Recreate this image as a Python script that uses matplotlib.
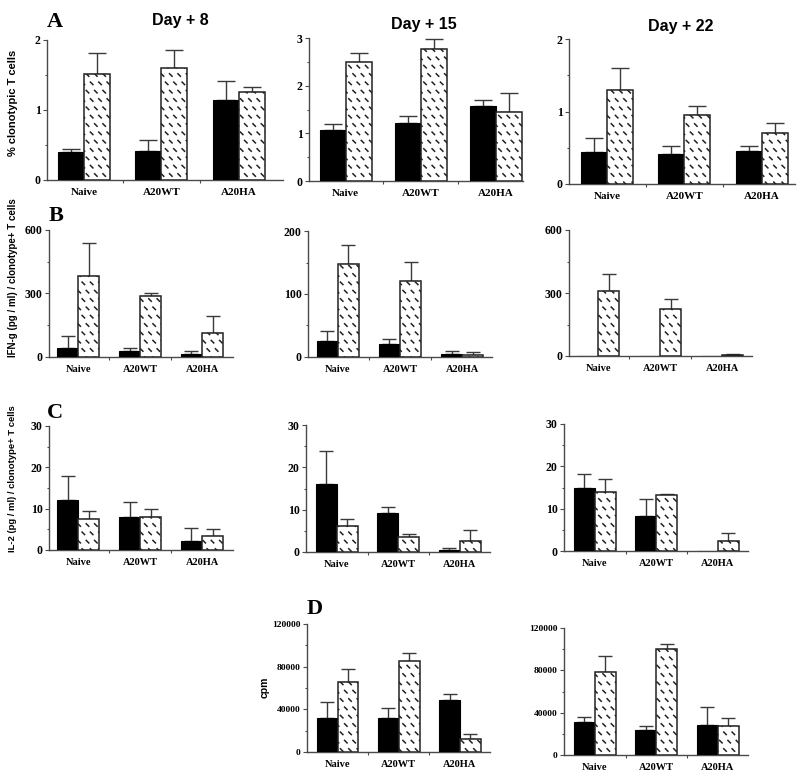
import numpy as np
import matplotlib
matplotlib.use("Agg")
import matplotlib.pyplot as plt
import matplotlib.hatch as mhatch
from matplotlib.path import Path
from matplotlib.ticker import FixedLocator, NullFormatter

# ---------------- data ----------------
categories = ["Naive", "A20WT", "A20HA"]

# A: % clonotypic T cells
a_d8_black = [0.40, 0.42, 1.15]
a_d8_black_err = [0.04, 0.15, 0.26]
a_d8_hatch = [1.51, 1.60, 1.26]
a_d8_hatch_err = [0.30, 0.26, 0.07]
a_d15_black = [1.07, 1.22, 1.58]
a_d15_black_err = [0.13, 0.15, 0.11]
a_d15_hatch = [2.49, 2.77, 1.45]
a_d15_hatch_err = [0.19, 0.20, 0.39]
a_d22_black = [0.44, 0.41, 0.46]
a_d22_black_err = [0.19, 0.12, 0.07]
a_d22_hatch = [1.29, 0.95, 0.71]
a_d22_hatch_err = [0.31, 0.13, 0.13]

# B: IFN-g
b_d8_black = [44, 27, 16]
b_d8_black_err = [54, 17, 11]
b_d8_hatch = [384, 287, 115]
b_d8_hatch_err = [153, 13, 78]
b_d15_black = [25, 21, 5]
b_d15_black_err = [16, 8, 5]
b_d15_hatch = [148, 121, 3]
b_d15_hatch_err = [30, 30, 4.5]
b_d22_black = [0, 0, 0]
b_d22_black_err = [0, 0, 0]
b_d22_hatch = [311, 222, 3]
b_d22_hatch_err = [79, 48, 5]

# C: IL-2
c_d8_black = [12.1, 7.9, 2.2]
c_d8_black_err = [5.9, 3.6, 3.2]
c_d8_hatch = [7.4, 8.1, 3.5]
c_d8_hatch_err = [2.1, 1.8, 1.7]
c_d15_black = [16.0, 9.2, 0.4]
c_d15_black_err = [7.9, 1.5, 0.5]
c_d15_hatch = [6.2, 3.6, 2.6]
c_d15_hatch_err = [1.5, 0.7, 2.7]
c_d22_black = [15.0, 8.2, 0]
c_d22_black_err = [3.2, 4.2, 0]
c_d22_hatch = [14.0, 13.3, 2.4]
c_d22_hatch_err = [2.9, 0.2, 1.9]

# D: cpm
d_d15_black = [32300, 31600, 48600]
d_d15_black_err = [14700, 10100, 6200]
d_d15_hatch = [65200, 85200, 12500]
d_d15_hatch_err = [12800, 7200, 4100]
d_d22_black = [31400, 23600, 28000]
d_d22_black_err = [4400, 4000, 17200]
d_d22_hatch = [78500, 99900, 27300]
d_d22_hatch_err = [14800, 4700, 7600]

a_ticks_d8 = [0, 1, 2]
a_ticks_d15 = [0, 1, 2, 3]
a_ticks_d22 = [0, 1, 2]
b_ticks_d8 = [0, 300, 600]
b_ticks_d15 = [0, 100, 200]
b_ticks_d22 = [0, 300, 600]
c_ticks = [0, 10, 20, 30]
d_ticks = [0, 40000, 80000, 120000]

day_titles = ["Day + 8", "Day + 15", "Day + 22"]
ylabels = ["% clonotypic T cells",
           "IFN-g (pg / ml) / clonotype+ T cells",
           "IL-2 (pg / ml) / clonotype+ T cells",
           "cpm"]
panel_letters = ["A", "B", "C", "D"]


# ---------------- custom dashed hatch ----------------
class DashHatch(mhatch.HatchPatternBase):
    size = 0.30

    def __init__(self, hatch, density):
        self.num_rows = hatch.count('.') * density
        if self.num_rows == 0:
            self.num_vertices = 0
        else:
            n = self.num_rows
            self.num_shapes = (n // 2 + 1) * (n + 1) + (n // 2) * n
            self.num_vertices = self.num_shapes * 2

    def set_vertices_and_codes(self, vertices, codes):
        n = self.num_rows
        off = 1.0 / n
        h = 0.5 * off * self.size
        vs, cs = [], []
        for row in range(n + 1):
            if row % 2 == 0:
                cols = np.linspace(0, 1, n + 1)
            else:
                cols = np.linspace(off / 2, 1 - off / 2, n)
            y = row * off
            for x in cols:
                vs.append([[x - h, y + h], [x + h, y - h]])
                cs.append([Path.MOVETO, Path.LINETO])
        vertices[:] = np.array(vs, dtype=float).reshape(-1, 2)
        codes[:] = np.array(cs).reshape(-1)


mhatch._hatch_types = [t for t in mhatch._hatch_types
                       if t is not mhatch.SmallFilledCircles] + [DashHatch]

plt.rcParams["hatch.linewidth"] = 1.1
plt.rcParams["hatch.color"] = "black"

SERIF = "Liberation Serif"
SANS = "Liberation Sans"
AXCOL = "#4a4a4a"

W, H = 800, 784
fig = plt.figure(figsize=(8.0, 7.84), dpi=100)


def add_ax(x0, x1, y0, y1):
    return fig.add_axes([x0 / W, 1 - y1 / H, (x1 - x0) / W, (y1 - y0) / H])


def panel(ax, black, black_err, hatch, hatch_err, ticks, xlim, bw=0.34,
          capsize=5, fs=7.5, yfs=8.5):
    x = np.arange(len(categories))
    xb = x - bw / 2
    xh = x + bw / 2
    ax.bar(xb, black, width=bw, color="black", edgecolor="black",
           linewidth=0.8, zorder=3)
    ax.bar(xh, hatch, width=bw, color="white", edgecolor="#222222",
           linewidth=1.1, hatch="..", zorder=3)
    for xs, v, e in ((xb, black, black_err), (xh, hatch, hatch_err)):
        v = np.asarray(v, float)
        e = np.asarray(e, float)
        m = e > 0
        if m.any():
            ax.errorbar(xs[m], v[m], yerr=[np.zeros(m.sum()), e[m]], fmt="none",
                        ecolor="#3a3a3a", elinewidth=1.0, capsize=capsize,
                        capthick=1.0, zorder=2)
    ax.set_xlim(*xlim)
    ax.set_ylim(ticks[0], ticks[-1])
    for s in ("top", "right"):
        ax.spines[s].set_visible(False)
    for s in ("left", "bottom"):
        ax.spines[s].set_color(AXCOL)
        ax.spines[s].set_linewidth(1.0)
    ax.set_yticks(ticks)
    mids = [(a + b) / 2 for a, b in zip(ticks[:-1], ticks[1:])]
    ax.yaxis.set_minor_locator(FixedLocator(mids))
    ax.set_yticklabels([str(t) for t in ticks],
                       fontfamily=SERIF, fontweight="bold", fontsize=yfs)
    ax.set_xticks(x)
    ax.set_xticklabels(categories, fontfamily=SERIF, fontweight="bold", fontsize=fs)
    ax.xaxis.set_minor_locator(FixedLocator([0.5, 1.5]))
    ax.xaxis.set_minor_formatter(NullFormatter())
    ax.tick_params(axis="x", which="major", length=0, pad=6)
    ax.tick_params(axis="x", which="minor", length=2.5, color=AXCOL, width=0.8)
    ax.tick_params(axis="y", which="major", length=3, color=AXCOL, width=0.8, pad=1.5)
    ax.tick_params(axis="y", which="minor", length=1.5, color=AXCOL, width=0.8)
    ax.set_facecolor("none")


# Row A
ax = add_ax(47, 283, 40, 180)
panel(ax, a_d8_black, a_d8_black_err, a_d8_hatch, a_d8_hatch_err, a_ticks_d8,
      (-0.477, 2.57), bw=0.335, capsize=6.5, fs=8)
ax = add_ax(309, 523, 38, 181)
panel(ax, a_d15_black, a_d15_black_err, a_d15_hatch, a_d15_hatch_err, a_ticks_d15,
      (-0.49, 2.36), bw=0.345, capsize=6.5, fs=8)
ax = add_ax(569, 795, 39, 184)
panel(ax, a_d22_black, a_d22_black_err, a_d22_hatch, a_d22_hatch_err, a_ticks_d22,
      (-0.49, 2.43), bw=0.335, capsize=6.5, fs=8)

# Row B
ax = add_ax(49, 233, 230, 357)
panel(ax, b_d8_black, b_d8_black_err, b_d8_hatch, b_d8_hatch_err, b_ticks_d8,
      (-0.47, 2.5))
ax = add_ax(308, 492, 231, 357)
panel(ax, b_d15_black, b_d15_black_err, b_d15_hatch, b_d15_hatch_err, b_ticks_d15,
      (-0.48, 2.48))
ax = add_ax(569, 752, 230, 356)
panel(ax, b_d22_black, b_d22_black_err, b_d22_hatch, b_d22_hatch_err, b_ticks_d22,
      (-0.47, 2.48))

# Row C
ax = add_ax(49, 233, 426, 550)
panel(ax, c_d8_black, c_d8_black_err, c_d8_hatch, c_d8_hatch_err, c_ticks,
      (-0.47, 2.5))
ax = add_ax(306, 490, 425, 552)
panel(ax, c_d15_black, c_d15_black_err, c_d15_hatch, c_d15_hatch_err, c_ticks,
      (-0.5, 2.49))
ax = add_ax(564, 748, 424, 551)
panel(ax, c_d22_black, c_d22_black_err, c_d22_hatch, c_d22_hatch_err, c_ticks,
      (-0.5, 2.49))

# Row D
ax = add_ax(307, 490, 624, 752)
panel(ax, d_d15_black, d_d15_black_err, d_d15_hatch, d_d15_hatch_err, d_ticks,
      (-0.5, 2.49), yfs=6.8)
ax = add_ax(564, 748, 628, 755)
panel(ax, d_d22_black, d_d22_black_err, d_d22_hatch, d_d22_hatch_err, d_ticks,
      (-0.5, 2.49), yfs=6.8)


def ftext(px, py, s, **kw):
    fig.text(px / W, 1 - py / H, s, **kw)


# Day titles
for (px, py), t in zip([(180, 20), (424, 25), (681, 27)], day_titles):
    ftext(px, py, t, fontfamily=SANS, fontweight="bold", fontsize=11.5,
          ha="center", va="center")

# Panel letters
for (px, py), t in zip([(55, 22), (56, 216), (55, 413), (315, 609)], panel_letters):
    ftext(px, py, t, fontfamily=SERIF, fontweight="bold", fontsize=16,
          ha="center", va="center")

# Y labels
ylab_pos = [(13, 103, 8.0), (13, 278, 7.0), (13, 479, 6.8), (265, 687, 7.5)]
for (px, py, fs), t in zip(ylab_pos, ylabels):
    ftext(px, py, t, fontfamily=SANS, fontweight="bold", fontsize=fs,
          ha="center", va="center", rotation=90)

fig.savefig("out.png", dpi=100, facecolor="white")
